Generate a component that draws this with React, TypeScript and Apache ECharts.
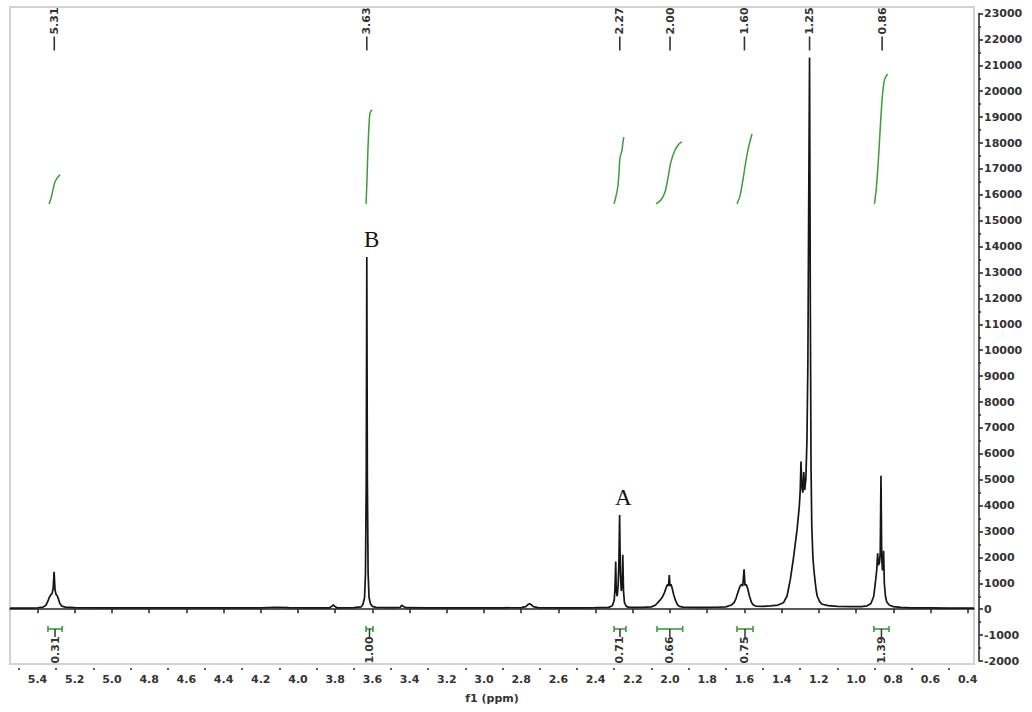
import React, { useEffect, useRef } from "react";
import * as echarts from "echarts";

// ---- axis ranges & ticks ----
const X_MIN = 0.366;
const X_MAX = 5.548;
const xTickValues = [5.4, 5.2, 5.0, 4.8, 4.6, 4.4, 4.2, 4.0, 3.8, 3.6, 3.4, 3.2, 3.0, 2.8, 2.6, 2.4, 2.2, 2.0, 1.8, 1.6, 1.4, 1.2, 1.0, 0.8, 0.6, 0.4];
const xMinorTickValues = [5.5, 5.3, 5.1, 4.9, 4.7, 4.5, 4.3, 4.1, 3.9, 3.7, 3.5, 3.3, 3.1, 2.9, 2.7, 2.5, 2.3, 2.1, 1.9, 1.7, 1.5, 1.3, 1.1, 0.9, 0.7, 0.5];
const Y_MIN = -2000;
const Y_MAX = 23000;
const Y_INTERVAL = 1000;

// ---- spectrum (ppm, intensity) ----
const specPpm = [
  5.548, 5.5, 5.45, 5.4, 5.37, 5.355, 5.345, 5.335, 5.328, 5.322, 5.316, 5.311, 5.306, 5.3, 5.294, 5.288, 5.28, 5.27, 5.25, 5.2,
  5.0, 4.8, 4.6, 4.4, 4.2, 4.12, 4.05, 3.95, 3.83, 3.815, 3.81, 3.805, 3.79, 3.7,
  3.66, 3.65, 3.642, 3.637, 3.633, 3.63, 3.627, 3.623, 3.618, 3.61, 3.6, 3.58, 3.5, 3.45, 3.445, 3.44, 3.435, 3.42,
  3.3, 3.1, 2.9, 2.8, 2.775, 2.765, 2.755, 2.745, 2.735, 2.71, 2.6, 2.5, 2.4, 2.33, 2.31,
  2.3, 2.296, 2.292, 2.289, 2.284, 2.279, 2.275, 2.271, 2.267, 2.262, 2.258, 2.254, 2.25, 2.245, 2.235, 2.22, 2.15,
  2.1, 2.08, 2.07, 2.06, 2.05, 2.04, 2.03, 2.02, 2.013, 2.008, 2.004, 2.0, 1.995, 1.988, 1.98, 1.97, 1.96, 1.95, 1.93,
  1.85, 1.75, 1.7, 1.67, 1.655, 1.645, 1.635, 1.625, 1.615, 1.609, 1.602, 1.597, 1.59, 1.582, 1.572, 1.562, 1.552, 1.54,
  1.5, 1.46, 1.42, 1.4, 1.389, 1.371, 1.353, 1.335, 1.317, 1.305, 1.3, 1.296, 1.291, 1.286, 1.281, 1.276, 1.27, 1.264,
  1.259, 1.255, 1.25, 1.246, 1.242, 1.238, 1.232, 1.227, 1.222, 1.215, 1.209, 1.195, 1.182, 1.15, 1.1, 1.03, 0.97,
  0.94, 0.92, 0.905, 0.895, 0.889, 0.884, 0.88, 0.874, 0.87, 0.866, 0.862, 0.858, 0.855, 0.852, 0.848, 0.842, 0.835,
  0.82, 0.8, 0.76, 0.7, 0.6, 0.5, 0.366,
];
const specIntensity = [
  40, 40, 45, 55, 80, 150, 300, 480, 560, 600, 800, 1440, 750, 560, 520, 400, 220, 120, 80, 60,
  55, 50, 50, 55, 55, 75, 60, 50, 55, 130, 170, 120, 55, 60,
  90, 200, 450, 1400, 5000, 13600, 5000, 1400, 450, 200, 110, 70, 60, 70, 130, 150, 110, 60,
  50, 50, 55, 60, 100, 170, 210, 170, 100, 60, 55, 55, 60, 70, 130,
  350, 800, 1840, 700, 500, 900, 1800, 3640, 1400, 700, 900, 2100, 700, 250, 110, 70, 70,
  90, 150, 220, 300, 380, 480, 640, 850, 960, 900, 1320, 900, 960, 800, 550, 330, 180, 110, 80,
  70, 75, 90, 160, 260, 420, 650, 870, 960, 900, 1540, 920, 950, 780, 480, 260, 160, 120,
  110, 130, 160, 220, 260, 510, 1160, 2050, 3080, 3980, 4600, 5700, 4700, 4500, 5300, 4600, 5000, 6500,
  9500, 15000, 21300, 12000, 5500, 3200, 2000, 1550, 1200, 760, 510, 280, 190, 140, 110, 100, 100,
  130, 220, 500, 1100, 1500, 2160, 1700, 1800, 2200, 5150, 2000, 1500, 1700, 2260, 1000, 500, 280,
  150, 100, 70, 55, 50, 45, 45,
];

// ---- integral curves (ppm, running integral drawn on the intensity scale) ----
const integral531: number[][] = [[5.338, 15650], [5.327, 15880], [5.317, 16190], [5.306, 16500], [5.29, 16690], [5.279, 16770]];
const integral363: number[][] = [[3.634, 15650], [3.629, 16580], [3.624, 17730], [3.618, 18700], [3.613, 19130], [3.602, 19280]];
const integral227: number[][] = [[2.301, 15650], [2.29, 15960], [2.28, 16340], [2.274, 16880], [2.269, 17420], [2.258, 17730], [2.253, 18040], [2.248, 18230]];
const integral200: number[][] = [[2.075, 15650], [2.049, 15800], [2.027, 16110], [2.011, 16650], [1.995, 17270], [1.973, 17730], [1.952, 17960], [1.936, 18040]];
const integral160: number[][] = [[1.64, 15650], [1.624, 15960], [1.608, 16580], [1.591, 17350], [1.575, 17930], [1.559, 18350]];
const integral086: number[][] = [[0.901, 15650], [0.891, 16270], [0.88, 17350], [0.869, 18700], [0.858, 19860], [0.847, 20440], [0.831, 20670]];

// ---- integration regions ----
const integralFrom = [5.344, 3.634, 2.301, 2.07, 1.64, 0.904];
const integralTo = [5.268, 3.597, 2.237, 1.932, 1.554, 0.823];
const integralLabels = ["0.31", "1.00", "0.71", "0.66", "0.75", "1.39"];

// ---- peak picking labels ----
const peakPositions = [5.31, 3.63, 2.27, 2.0, 1.6, 1.25, 0.86];
const peakLabels = ["5.31", "3.63", "2.27", "2.00", "1.60", "1.25", "0.86"];

// ---- annotation letters ----
const markerLabels = ["A", "B"];
const markerPpm = [2.251, 3.604];
const markerValue = [4320, 14260];

const FONT = "'DejaVu Sans', Verdana, sans-serif";
const TEXT_COLOR = "#333";
const GREEN = "#3a9d3a";

export default function App() {
  const ref = useRef<HTMLDivElement>(null);

  useEffect(() => {
    if (!ref.current) return;
    const chart = echarts.init(ref.current, undefined, { renderer: "svg" });

    const integralSeries = [integral531, integral363, integral227, integral200, integral160, integral086].map((d) => ({
      type: "line",
      data: d,
      showSymbol: false,
      smooth: 0.3,
      lineStyle: { color: GREEN, width: 1.5 },
      z: 2,
      silent: true,
    }));

    const option: any = {
      animation: false,
      backgroundColor: "#ffffff",
      grid: { left: 10, right: 58, top: 13.5, bottom: 51, containLabel: false },
      graphic: [
        {
          type: "rect",
          shape: { x: 10, y: 7, width: 964, height: 657 },
          style: { fill: "none", stroke: "#d2d2d2", lineWidth: 2 },
          z: -1,
          silent: true,
        },
      ],
      xAxis: [
        {
          type: "value",
          min: X_MIN,
          max: X_MAX,
          inverse: true,
          position: "bottom",
          offset: 7,
          axisLine: { show: true, lineStyle: { color: "#222", width: 1.5 } },
          axisTick: { show: true, customValues: xTickValues, length: 4, lineStyle: { color: "#222", width: 1.5 } },
          axisLabel: {
            customValues: xTickValues,
            formatter: (v: number) => v.toFixed(1),
            fontFamily: FONT,
            fontSize: 11,
            fontWeight: "bold",
            color: TEXT_COLOR,
            margin: 6,
          },
          splitLine: { show: false },
          name: "f1 (ppm)",
          nameLocation: "middle",
          nameGap: 25,
          nameTextStyle: { fontFamily: FONT, fontSize: 11, fontWeight: "bold", color: TEXT_COLOR },
        },
        {
          type: "value",
          min: X_MIN,
          max: X_MAX,
          inverse: true,
          position: "bottom",
          offset: 7,
          axisLine: { show: false },
          axisTick: { show: true, customValues: xMinorTickValues, length: 2, lineStyle: { color: "#222", width: 1.5 } },
          axisLabel: { show: false },
          splitLine: { show: false },
        },
      ],
      yAxis: {
        type: "value",
        min: Y_MIN,
        max: Y_MAX,
        interval: Y_INTERVAL,
        position: "right",
        offset: 5,
        axisLine: { show: true, lineStyle: { color: "#222", width: 1.5 } },
        axisTick: { show: true, length: 4, lineStyle: { color: "#222", width: 1.5 } },
        minorTick: { show: true, splitNumber: 2, length: 2, lineStyle: { color: "#222", width: 1.5 } },
        axisLabel: {
          formatter: (v: number) => String(v),
          fontFamily: FONT,
          fontSize: 11,
          fontWeight: "bold",
          color: TEXT_COLOR,
          margin: 5,
        },
        splitLine: { show: false },
      },
      series: [
        ...integralSeries,
        {
          type: "line",
          data: specPpm.map((p, i) => [p, specIntensity[i]]),
          showSymbol: false,
          lineStyle: { color: "#161616", width: 1.7 },
          z: 3,
          silent: true,
        },
        {
          type: "custom",
          z: 4,
          silent: true,
          data: peakPositions.map((p) => [p, 0]),
          renderItem: (params: any, api: any) => {
            const x = api.coord([api.value(0), 0])[0];
            const top = params.coordSys.y;
            const i = params.dataIndex;
            return {
              type: "group",
              children: [
                {
                  type: "text",
                  x,
                  y: top + 7.5,
                  rotation: Math.PI / 2,
                  style: {
                    text: peakLabels[i],
                    fontFamily: FONT,
                    fontSize: 11,
                    fontWeight: "bold",
                    fill: TEXT_COLOR,
                    align: "center",
                    verticalAlign: "middle",
                  },
                },
                {
                  type: "line",
                  shape: { x1: x, y1: top + 23, x2: x, y2: top + 37 },
                  style: { stroke: TEXT_COLOR, lineWidth: 1.6 },
                },
              ],
            };
          },
        },
        {
          type: "custom",
          z: 4,
          silent: true,
          data: integralFrom.map((f, i) => [f, integralTo[i]]),
          renderItem: (params: any, api: any) => {
            const x1 = api.coord([api.value(0), 0])[0];
            const x2 = api.coord([api.value(1), 0])[0];
            const bottom = params.coordSys.y + params.coordSys.height;
            const yb = bottom - 32;
            const xc = (x1 + x2) / 2;
            const i = params.dataIndex;
            return {
              type: "group",
              children: [
                { type: "line", shape: { x1, y1: yb, x2, y2: yb }, style: { stroke: GREEN, lineWidth: 1.6 } },
                { type: "line", shape: { x1, y1: yb - 3, x2: x1, y2: yb + 3 }, style: { stroke: GREEN, lineWidth: 1.6 } },
                { type: "line", shape: { x1: x2, y1: yb - 3, x2, y2: yb + 3 }, style: { stroke: GREEN, lineWidth: 1.6 } },
                { type: "line", shape: { x1: xc, y1: yb, x2: xc, y2: yb + 8 }, style: { stroke: TEXT_COLOR, lineWidth: 1.5 } },
                {
                  type: "text",
                  x: xc,
                  y: bottom - 11,
                  rotation: Math.PI / 2,
                  style: {
                    text: integralLabels[i],
                    fontFamily: FONT,
                    fontSize: 11,
                    fontWeight: "bold",
                    fill: TEXT_COLOR,
                    align: "center",
                    verticalAlign: "middle",
                  },
                },
              ],
            };
          },
        },
        {
          type: "custom",
          z: 5,
          silent: true,
          data: markerPpm.map((p, i) => [p, markerValue[i]]),
          renderItem: (params: any, api: any) => {
            const pt = api.coord([api.value(0), api.value(1)]);
            return {
              type: "text",
              x: pt[0],
              y: pt[1],
              style: {
                text: markerLabels[params.dataIndex],
                fontFamily: "'Liberation Serif', 'Times New Roman', serif",
                fontSize: 23,
                fontWeight: "normal",
                fill: "#111",
                align: "center",
                verticalAlign: "middle",
              },
            };
          },
        },
      ],
    };

    chart.setOption(option);
    return () => chart.dispose();
  }, []);

  return (
    <div
      ref={ref}
      style={{ position: "fixed", left: 0, top: 0, width: 1032, height: 712, background: "#fff" }}
    />
  );
}
